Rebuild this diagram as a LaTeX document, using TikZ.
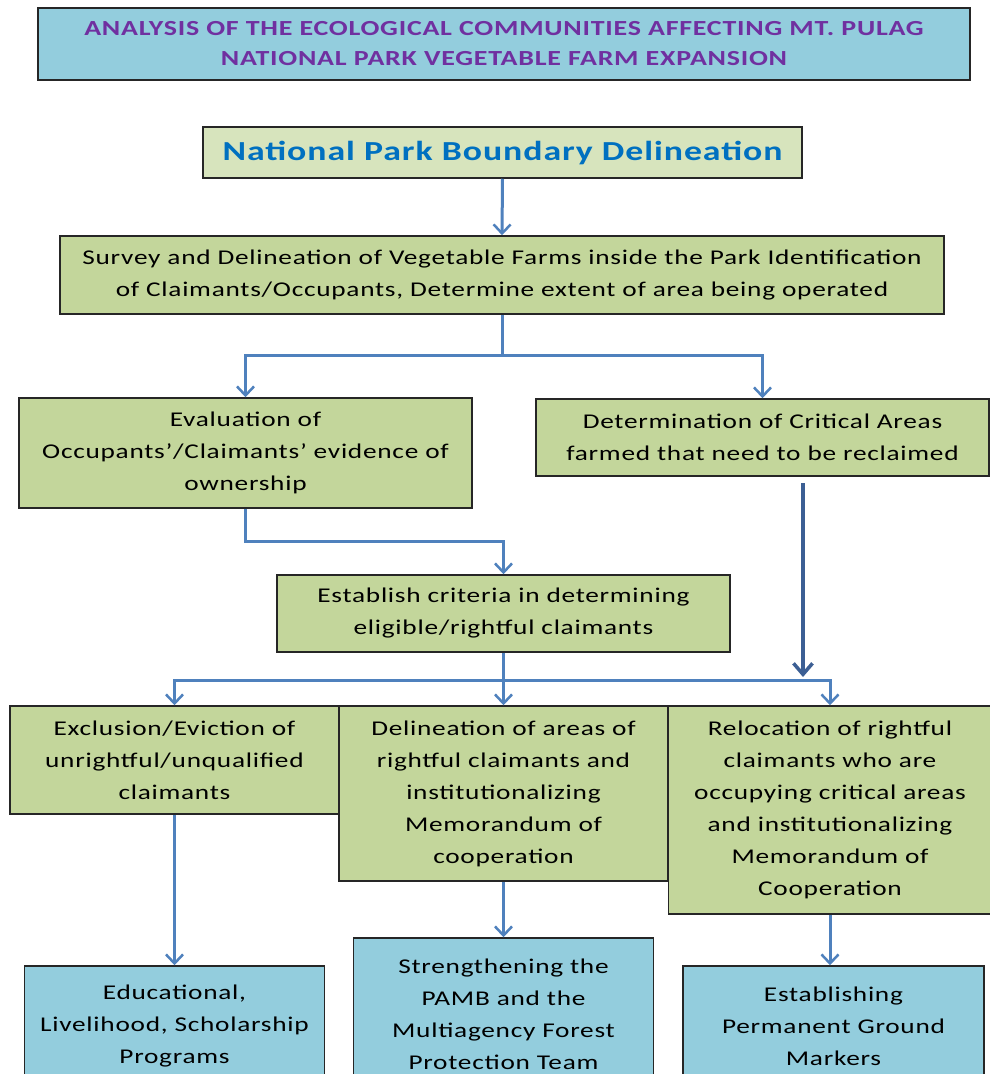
\documentclass[tikz,border=0pt]{standalone}
\usepackage{fontspec}
\setmainfont{Carlito}[FakeStretch=1.3, LetterSpace=3.5]
\usetikzlibrary{arrows.meta}

\definecolor{skyblue}{HTML}{93CDDD}
\definecolor{palegreen}{HTML}{D7E4BD}
\definecolor{leafgreen}{HTML}{C3D69B}
\definecolor{titlepurple}{HTML}{7030A0}
\definecolor{headblue}{HTML}{0070C0}
\definecolor{flowblue}{HTML}{4F81BD}
\definecolor{darkflow}{HTML}{3C5F94}

\tikzset{
    box/.style={draw=black!85, line width=1.5pt, inner sep=0pt, align=center,
        font=\fontsize{21}{32}\selectfont},
    greenbox/.style={box, fill=leafgreen},
    bluebox/.style={box, fill=skyblue},
    flow/.style={draw=flowblue, line width=3pt,
        -{Straight Barb[length=9pt,width=17pt,line width=2.5pt]}},
    heavyflow/.style={draw=darkflow, line width=4.5pt,
        -{Straight Barb[length=11pt,width=19pt,line width=3.5pt]}}
}

\begin{document}
\begin{tikzpicture}[x=1pt,y=-1pt]

        \path[use as bounding box] (0,0) rectangle (990,1074);
        \clip (0,0) rectangle (990,1074);
        \fill[white] (0,0) rectangle (990,1074);

        % Heading
        \node[box, fill=skyblue, minimum width=932, minimum height=72,
            font=\fontsize{21.5}{30}\selectfont\bfseries, text=titlepurple] (title) at (504,44)
            {ANALYSIS OF THE ECOLOGICAL COMMUNITIES AFFECTING MT. PULAG\\
             NATIONAL PARK VEGETABLE FARM EXPANSION};

        \node[box, fill=palegreen, minimum width=599, minimum height=51,
            font=\fontsize{27.5}{32}\selectfont\bfseries, text=headblue] (npbd) at (502.5,152.5)
            {National Park Boundary Delineation};

        % Main chain
        \node[greenbox, minimum width=884, minimum height=78] (survey) at (502,275)
            {Survey and Delineation of Vegetable Farms inside the Park Identification\\
             of Claimants/Occupants, Determine extent of area being operated};
        \node[greenbox, minimum width=453, minimum height=110] (eval) at (245.5,453)
            {Evaluation of\\ Occupants'/Claimants' evidence of\\ ownership};
        \node[greenbox, minimum width=453, minimum height=77] (crit) at (762.5,437.5)
            {Determination of Critical Areas\\ farmed that need to be reclaimed};
        \node[greenbox, minimum width=453, minimum height=77] (criteria) at (503.5,613.5)
            {Establish criteria in determining\\ eligible/rightful claimants};

        % Three actions
        \node[greenbox, minimum width=329, minimum height=108] (excl) at (174.5,760)
            {Exclusion/Eviction of\\ unrightful/unqualified\\ claimants};
        \node[greenbox, minimum width=329, minimum height=175] (delin) at (503.5,793.5)
            {Delineation of areas of\\ rightful claimants and\\ institutionalizing\\
             Memorandum of\\ cooperation};
        \node[greenbox, minimum width=323, minimum height=208] (reloc) at (830,810)
            {Relocation of rightful\\ claimants who are\\ occupying critical areas\\
             and institutionalizing\\ Memorandum of\\ Cooperation};

        % Outcomes (cut by the page edge)
        \node[bluebox, minimum width=300, minimum height=120] (edu) at (174.5,1026)
            {Educational,\\ Livelihood, Scholarship\\ Programs};
        \node[bluebox, minimum width=300, minimum height=152] (pamb) at (503.5,1014)
            {Strengthening the\\ PAMB and the\\ Multiagency Forest\\ Protection Team};
        \node[bluebox, minimum width=301, minimum height=120] (markers) at (833.5,1026)
            {Establishing\\ Permanent Ground\\ Markers};

        % Connectors
        \draw[flow] (npbd.south) -- (survey.north);
        \draw[flow] (survey.south) -- ++(0,41) -| (eval.north);
        \draw[flow] (survey.south) -- ++(0,41) -| (crit.north);
        \draw[flow] (eval.south) -- ++(0,33) -| (criteria.north);
        \draw[flow] (criteria.south) -- ++(0,28) -| (excl.north);
        \draw[flow] (criteria.south) -- (delin.north);
        \draw[flow] (criteria.south) -- ++(0,28) -| (reloc.north);
        \draw[flow] (excl.south) -- (edu.north);
        \draw[flow] (delin.south) -- (pamb.north);
        \draw[flow] (reloc.south) -- (reloc.south |- markers.north);

        % Critical areas feed into the relocation branch
        \coordinate (critfoot) at (803,483);
        \coordinate (critjoin) at (803,677);
        \draw[heavyflow] (critfoot) -- (critjoin);

\end{tikzpicture}
\end{document}
